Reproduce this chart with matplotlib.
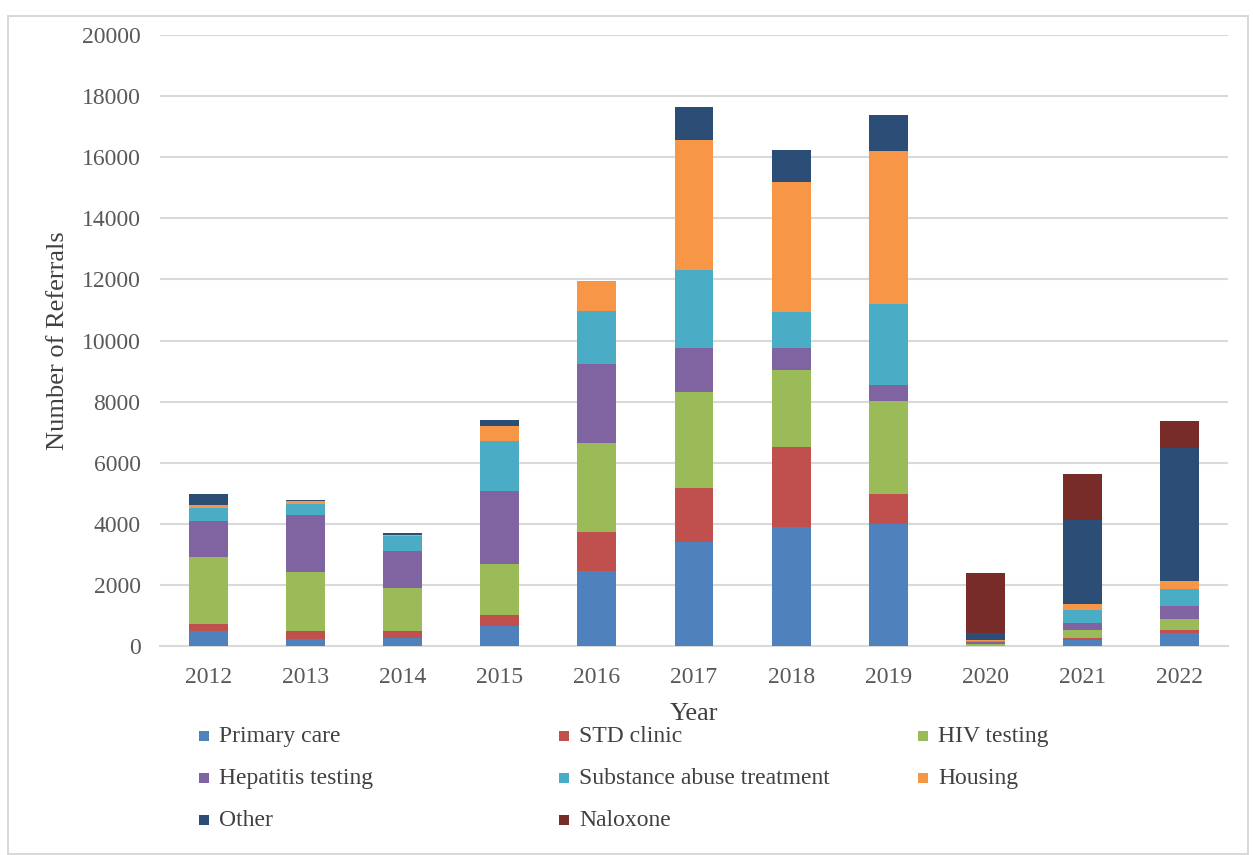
import matplotlib.pyplot as plt
import matplotlib.patches as mpatches
import numpy as np

plt.rcParams['font.family'] = ['Liberation Serif', 'DejaVu Serif']

years = ['2012', '2013', '2014', '2015', '2016', '2017', '2018', '2019', '2020', '2021', '2022']

primary_care = [500, 235, 255, 650, 2450, 3400, 3900, 3980, 10, 185, 425]
std_clinic = [210, 270, 250, 380, 1275, 1780, 2620, 1000, 5, 75, 90]
hiv_testing = [2210, 1910, 1385, 1660, 2915, 3140, 2500, 3045, 55, 250, 380]
hepatitis_testing = [1170, 1880, 1235, 2400, 2600, 1420, 740, 515, 60, 250, 415]
substance_abuse = [420, 360, 460, 1610, 1720, 2565, 1180, 2645, 50, 405, 570]
housing = [90, 75, 55, 510, 980, 4250, 4240, 5010, 10, 220, 240]
other = [380, 35, 50, 200, 0, 1100, 1070, 1195, 240, 2730, 4350]
naloxone = [0, 0, 0, 0, 0, 0, 0, 0, 1950, 1500, 905]

series = [
    ('Primary care', primary_care, '#4F81BD'),
    ('STD clinic', std_clinic, '#C0504D'),
    ('HIV testing', hiv_testing, '#9BBB59'),
    ('Hepatitis testing', hepatitis_testing, '#8064A2'),
    ('Substance abuse treatment', substance_abuse, '#4BACC6'),
    ('Housing', housing, '#F79646'),
    ('Other', other, '#2C4D75'),
    ('Naloxone', naloxone, '#772C2A'),
]

W, H = 1253, 855
fig = plt.figure(figsize=(W / 100, H / 100), dpi=100)
ax = fig.add_axes([160 / W, 1 - 646 / H, 1068 / W, 611 / H])

# outer chart frame
frame = mpatches.Rectangle((8 / W, 1 / H), 1240 / W, 838 / H,
                           transform=fig.transFigure, fill=False,
                           edgecolor='#D9D9D9', linewidth=1.5)
fig.patches.append(frame)

x = np.arange(len(years))
bottom = np.zeros(len(years))
for name, vals, color in series:
    vals = np.array(vals, dtype=float)
    ax.bar(x, vals, width=0.4, bottom=bottom, color=color, label=name, zorder=3)
    bottom += vals

ax.set_xlim(-0.5, len(years) - 0.5)
ax.set_ylim(0, 20000)
ax.set_yticks(np.arange(0, 20001, 2000))
ax.set_xticks(x)
ax.set_xticklabels(years)
ax.yaxis.grid(True, color='#D9D9D9', linewidth=1.5, zorder=0)
for s in ['top', 'right', 'left']:
    ax.spines[s].set_visible(False)
ax.spines['bottom'].set_color('#D9D9D9')
ax.spines['bottom'].set_linewidth(1.5)
ax.tick_params(axis='both', length=0, labelsize=17, colors='#595959')
ax.tick_params(axis='y', pad=14)
ax.tick_params(axis='x', pad=15)

ax.set_ylabel('Number of Referrals', fontsize=19, color='#404040', labelpad=9)
ax.set_xlabel('Year', fontsize=19, color='#404040', labelpad=11)

# legend laid out in three columns, filled row by row
col_x = [199, 559, 918]
row_y = [736, 778, 820]
for i, (name, vals, color) in enumerate(series):
    cx = col_x[i % 3]
    cy = row_y[i // 3]
    sq = mpatches.Rectangle((cx / W, 1 - (cy + 5) / H), 10 / W, 10 / H,
                            transform=fig.transFigure, facecolor=color,
                            edgecolor='none')
    fig.patches.append(sq)
    fig.text((cx + 20) / W, 1 - cy / H, name, fontsize=17, color='#404040',
             va='center', ha='left')

fig.savefig('out.png', dpi=100)
